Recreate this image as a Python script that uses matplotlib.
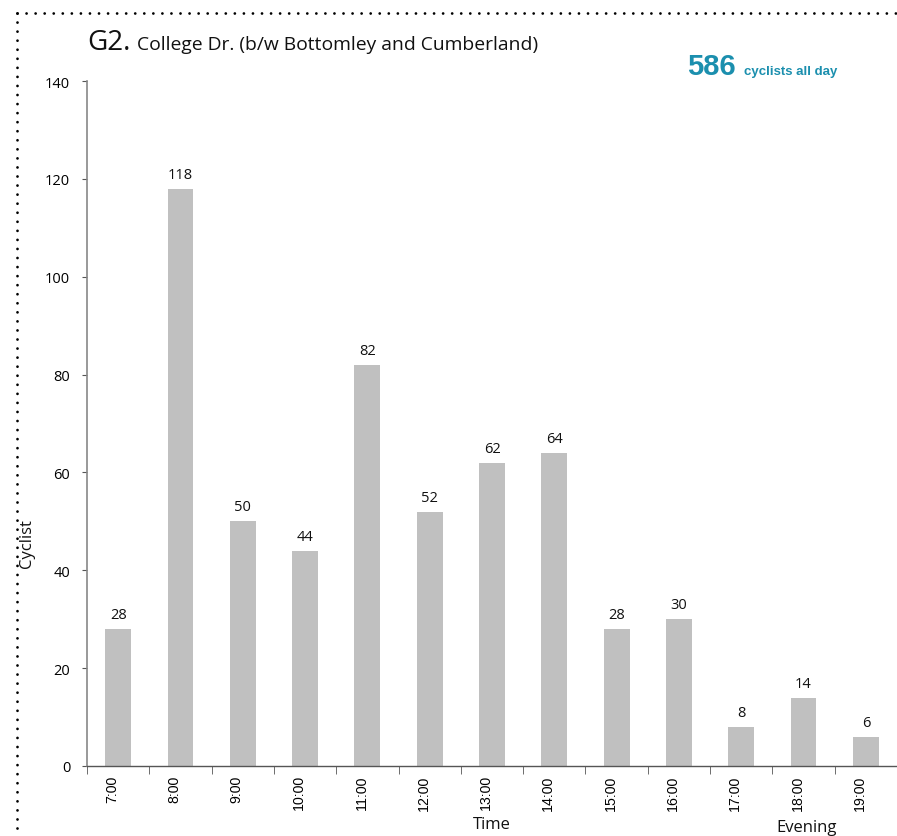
import matplotlib
matplotlib.use("Agg")
import matplotlib.pyplot as plt
from matplotlib.lines import Line2D
from matplotlib.transforms import ScaledTranslation

times = ["7:00", "8:00", "9:00", "10:00", "11:00", "12:00", "13:00",
         "14:00", "15:00", "16:00", "17:00", "18:00", "19:00"]
cyclists = [28, 118, 50, 44, 82, 52, 62, 64, 28, 30, 8, 14, 6]
yticks = [0, 20, 40, 60, 80, 100, 120, 140]
total = 586

W, H = 897, 837
fig = plt.figure(figsize=(W / 100, H / 100), dpi=100)
ax = fig.add_axes([87 / W, 1 - 767 / H, (W - 87) / W, (767 - 82) / H])

x = list(range(len(times)))
ax.bar(x, cyclists, width=0.415, color="#c0c0c0", zorder=2)
for xi, v in zip(x, cyclists):
    ax.annotate(str(v), (xi, v), xytext=(0, 5), textcoords="offset points",
                ha="center", va="bottom", fontsize=10.5, family="Open Sans",
                color="#111111")

ax.set_ylim(0, 140)
ax.set_xlim(-0.5, -0.5 + (W - 87) / 62.64)
ax.set_yticks(yticks)
ax.set_yticklabels([str(t) for t in yticks], family="Open Sans", fontsize=10.5)
ax.set_xticks(x)
ax.set_xticklabels(times, rotation=90, family="Liberation Sans", fontsize=10.2)
ax.tick_params(axis="x", length=0, pad=6)
offset = ScaledTranslation(-6 / 100, 0, fig.dpi_scale_trans)
for lbl in ax.get_xticklabels():
    lbl.set_transform(lbl.get_transform() + offset)
ax.set_xticks([i - 0.5 for i in range(len(times) + 1)], minor=True)
ax.tick_params(axis="x", which="minor", length=6, color="#555555", direction="out")
ax.tick_params(axis="y", length=3.6, color="#555555", direction="out", pad=8.5)

for s in ["top", "right"]:
    ax.spines[s].set_visible(False)
ax.spines["left"].set_color("#888888")
ax.spines["bottom"].set_color("#555555")
ax.spines["left"].set_linewidth(1.2)
ax.spines["bottom"].set_linewidth(1.0)

# Dotted frame
dot_style = dict(transform=fig.transFigure, color="black", linestyle=(0, (0.01, 3.25)),
                 linewidth=2.0, dash_capstyle="round")
fig.add_artist(Line2D([17 / W, 1.0], [1 - 14 / H, 1 - 14 / H], **dot_style))
fig.add_artist(Line2D([17 / W, 17 / W], [1 - 14 / H, 0.0], **dot_style))

# Title
fig.text(87 / W, 1 - 50 / H, "G2.", fontsize=20, family="Open Sans", color="#111111",
         va="baseline")
fig.text(137 / W, 1 - 50 / H, "College Dr. (b/w Bottomley and Cumberland)", fontsize=13.9,
         family="Open Sans", color="#111111", va="baseline")

# Total
fig.text(687 / W, 1 - 75 / H, str(total), fontsize=21, family="Liberation Sans",
         weight="bold", color="#1b8fae", va="baseline")
fig.text(744 / W, 1 - 75 / H, "cyclists all day", fontsize=9.5, family="Liberation Sans",
         weight="bold", color="#1b8fae", va="baseline")

# Axis labels
fig.text(27 / W, 1 - 544 / H, "Cyclist", rotation=90, fontsize=12, family="Open Sans",
         ha="center", va="center", color="#111111")
fig.text(492 / W, 1 - 825 / H, "Time", fontsize=12, family="Open Sans",
         ha="center", va="center", color="#111111")
fig.text(807 / W, 1 - 828 / H, "Evening", fontsize=12, family="Open Sans",
         ha="center", va="center", color="#111111")

fig.savefig("out.png", dpi=100)
